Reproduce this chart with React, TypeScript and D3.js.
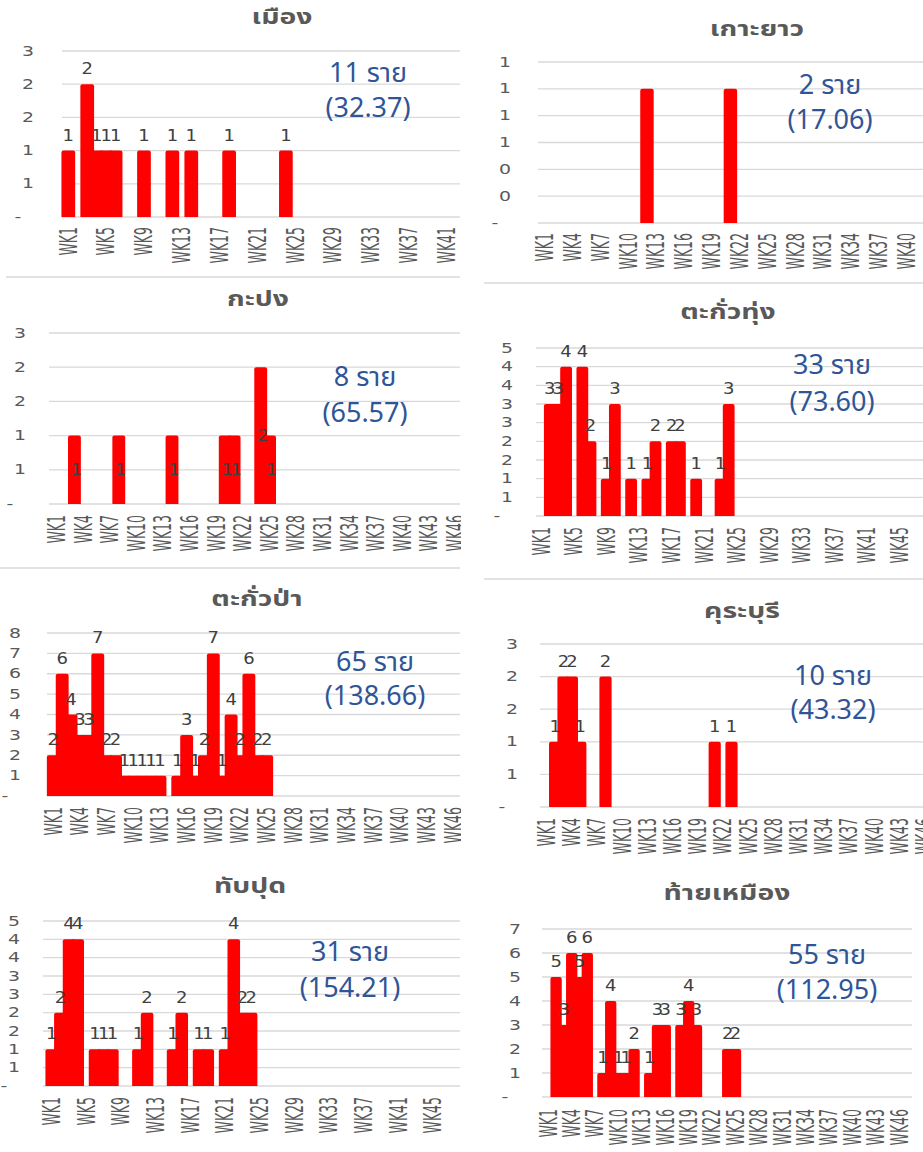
import React from 'react';
import * as d3 from 'd3';

// week categories shared by every panel
const WEEKS = d3.range(1, 53).map(i => `WK${i}`);

// weekly cases from WK1 (weeks after the last value are zero)
const mueang = [1, 0, 2, 1, 1, 1, 0, 0, 1, 0, 0, 1, 0, 1, 0, 0, 0, 1, 0, 0, 0, 0, 0, 1];
const kohYao = [0, 0, 0, 0, 0, 0, 0, 0, 0, 0, 0, 1, 0, 0, 0, 0, 0, 0, 0, 0, 1];
const kapong = [0, 0, 1, 0, 0, 0, 0, 1, 0, 0, 0, 0, 0, 1, 0, 0, 0, 0, 0, 1, 1, 0, 0, 2, 1];
const takuaThung = [0, 3, 3, 4, 0, 4, 2, 0, 1, 3, 0, 1, 0, 1, 2, 0, 2, 2, 0, 1, 0, 0, 1, 3];
const takuaPa = [2, 6, 4, 3, 3, 7, 2, 2, 1, 1, 1, 1, 1, 0, 1, 3, 1, 2, 7, 1, 4, 2, 6, 2, 2];
const khuraBuri = [0, 1, 2, 2, 1, 0, 0, 2, 0, 0, 0, 0, 0, 0, 0, 0, 0, 0, 0, 0, 1, 0, 1];
const thapPut = [1, 2, 4, 4, 0, 1, 1, 1, 0, 0, 1, 2, 0, 0, 1, 2, 0, 1, 1, 0, 1, 4, 2, 2];
const thaiMueang = [0, 5, 3, 6, 5, 6, 0, 1, 4, 1, 1, 2, 0, 1, 3, 3, 0, 3, 4, 3, 0, 0, 0, 2, 2];

const DISTRICTS = ['เมือง', 'เกาะยาว', 'กะปง', 'ตะกั่วทุ่ง', 'ตะกั่วป่า', 'คุระบุรี', 'ทับปุด', 'ท้ายเหมือง'];
const CASES = [mueang, kohYao, kapong, takuaThung, takuaPa, khuraBuri, thapPut, thaiMueang];
const TOTALS = [11, 2, 8, 33, 65, 10, 31, 55];
const RATES = ['32.37', '17.06', '65.57', '73.60', '138.66', '43.32', '154.21', '112.95'];

// axis settings (max, major unit, label every n weeks, where data labels go)
const AXES = [
  { max: 2.5, unit: 0.5, every: 4, labels: 'top' },
  { max: 1.2, unit: 0.2, every: 3, labels: 'none' },
  { max: 2.5, unit: 0.5, every: 3, labels: 'center' },
  { max: 4.5, unit: 0.5, every: 4, labels: 'top' },
  { max: 8, unit: 1, every: 3, labels: 'top' },
  { max: 2.5, unit: 0.5, every: 3, labels: 'top' },
  { max: 4.5, unit: 0.5, every: 4, labels: 'top' },
  { max: 7, unit: 1, every: 3, labels: 'top' },
];

// where each panel sits on the page
const LAYOUT = [
  { gl: 62, gr: 460, x0: 68.3, step: 9.46, top: 51, base: 217, yl: 34, xt: 227, tx: 282, ty: 18, nx: 368, ny: 73, ny2: 108, border: [6, 460, 277], left: true },
  { gl: 538, gr: 923, x0: 545, step: 9.27, top: 62, base: 223, yl: 511, xt: 233, tx: 757, ty: 30, nx: 830, ny: 85, ny2: 120, border: [484, 923, 283], left: false },
  { gl: 49, gr: 460, x0: 56.7, step: 8.87, top: 333, base: 504, yl: 26, xt: 515, tx: 258, ty: 300, nx: 365, ny: 377, ny2: 413, border: [0, 460, 568], left: true },
  { gl: 536, gr: 923, x0: 541.7, step: 8.13, top: 348, base: 516, yl: 513, xt: 527, tx: 728, ty: 313, nx: 832, ny: 365, ny2: 402, border: [484, 923, 579], left: false },
  { gl: 47, gr: 460, x0: 53.3, step: 8.89, top: 633, base: 796, yl: 21, xt: 807, tx: 257, ty: 600, nx: 375, ny: 662, ny2: 696, border: null, left: true },
  { gl: 540, gr: 923, x0: 546.7, step: 8.4, top: 644, base: 807, yl: 518, xt: 818, tx: 742, ty: 612, nx: 833, ny: 676, ny2: 710, border: null, left: false },
  { gl: 43, gr: 460, x0: 51.7, step: 8.67, top: 921, base: 1086, yl: 20, xt: 1097, tx: 250, ty: 887, nx: 350, ny: 952, ny2: 988, border: null, left: true },
  { gl: 542, gr: 912, x0: 548.3, step: 7.8, top: 929, base: 1097, yl: 521, xt: 1109, tx: 727, ty: 894, nx: 827, ny: 955, ny2: 990, border: null, left: false },
];

const GRAY = '#595959';
const GRID = '#d9d9d9';
const NOTE = '#2f5597';
const FONT = '"DejaVu Sans", Tahoma, sans-serif';
const THAI = 'Tahoma, "Noto Sans Thai", "Noto Sans", sans-serif';

// bar with slightly rounded top
const barPath = (x: number, y: number, w: number, h: number) => {
  const r = Math.min(2, h / 2);
  return `M${x},${y + h}V${y + r}Q${x},${y} ${x + r},${y}H${x + w - r}Q${x + w},${y} ${x + w},${y + r}V${y + h}Z`;
};

const fmt = (v: number) => (v === 0 ? '-' : String(Math.round(v)));

const Panel = ({ idx }: { idx: number }) => {
  const L = LAYOUT[idx];
  const A = AXES[idx];
  const values = CASES[idx];

  const x = d3
    .scaleBand<string>()
    .domain(WEEKS)
    .range([L.x0 - L.step / 2, L.x0 - L.step / 2 + WEEKS.length * L.step]);
  const y = d3.scaleLinear().domain([0, A.max]).range([L.base, L.top]);
  const ticks = d3.range(0, A.max + A.unit / 2, A.unit);
  const bw = x.bandwidth() * 1.45;
  const cx = (w: string) => x(w)! + x.bandwidth() / 2;

  const bars = values.map((v, i) => ({ wk: WEEKS[i], v })).filter(d => d.v > 0);

  return (
    <g clipPath={L.left ? 'url(#clipL)' : undefined}>
      <text textAnchor="middle" dominantBaseline="central" fill={GRAY}
        fontFamily={THAI} fontWeight="bold" fontSize={21}
        transform={`translate(${L.tx},${L.ty}) scale(1.35,1)`}>
        {DISTRICTS[idx]}
      </text>

      {ticks.map(t => (
        <g key={t}>
          <line x1={L.gl} x2={L.gr} y1={y(t)} y2={y(t)} stroke={GRID} strokeWidth={1.3} />
          <text
            transform={`translate(${t === 0 ? L.yl - 16 : L.yl},${y(t)}) scale(1.35,1)`}
            textAnchor={t === 0 ? 'middle' : 'end'} dominantBaseline="central"
            fontFamily={FONT} fontSize={14} fill={GRAY}>
            {fmt(t)}
          </text>
        </g>
      ))}

      {bars.map(d => (
        <path key={d.wk} d={barPath(cx(d.wk) - bw / 2, y(d.v), bw, L.base - y(d.v))} fill="#ff0000" />
      ))}

      {A.labels !== 'none' && bars.map(d => (
        <text key={'l' + d.wk}
          transform={`translate(${cx(d.wk) + (A.labels === 'center' ? 2 : 0)},${A.labels === 'center' ? y(d.v / 2) : y(d.v) - 10}) scale(1.2,1)`}
          textAnchor="middle" dominantBaseline={A.labels === 'center' ? 'central' : 'auto'}
          fontFamily={FONT} fontSize={15} fill="#404040">
          {d.v}
        </text>
      ))}

      {WEEKS.filter((w, i) => i % A.every === 0 && cx(w) < L.gr + 6).map(w => (
        <text key={w}
          transform={`translate(${cx(w)},${L.xt}) scale(2,1) rotate(-90)`}
          textAnchor="end" dominantBaseline="central"
          fontFamily={FONT} fontSize={12.5} fill={GRAY}>
          {w}
        </text>
      ))}

      <text x={L.nx} y={L.ny} textAnchor="middle" dominantBaseline="central" fill={NOTE}
        fontFamily={THAI} fontSize={27}>
        {`${TOTALS[idx]} ราย`}
      </text>
      <text x={L.nx} y={L.ny2} textAnchor="middle" dominantBaseline="central" fill={NOTE}
        fontFamily={THAI} fontSize={27}>
        {`(${RATES[idx]})`}
      </text>

      {L.border && (
        <line x1={L.border[0]} x2={L.border[1]} y1={L.border[2]} y2={L.border[2]} stroke={GRID} strokeWidth={1.3} />
      )}
    </g>
  );
};

export default function App() {
  return (
    <svg width={923} height={1152} style={{ position: 'absolute', left: 0, top: 0, background: '#fff' }}>
      <defs>
        <clipPath id="clipL">
          <rect x={0} y={0} width={461} height={1152} />
        </clipPath>
      </defs>
      <rect width={923} height={1152} fill="#fff" />
      {LAYOUT.map((_, i) => (
        <Panel key={i} idx={i} />
      ))}
    </svg>
  );
}
